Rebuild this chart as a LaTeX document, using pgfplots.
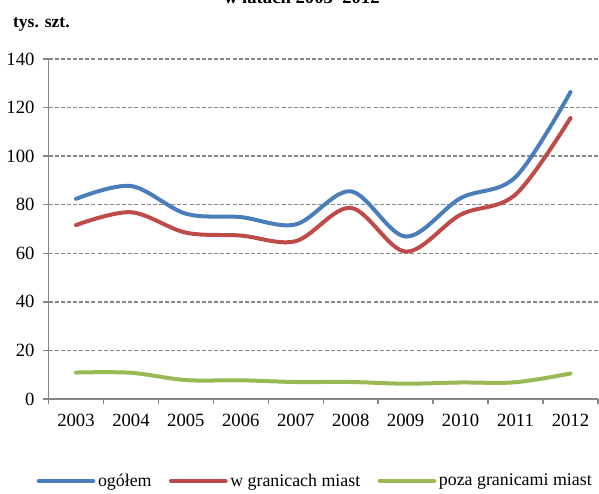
\documentclass[border=0pt]{standalone}
\usepackage{fontspec}
\setmainfont{Liberation Serif}
\usepackage{pgfplots}
\pgfplotsset{compat=1.18}
\definecolor{cblue}{HTML}{4A7EBB}
\definecolor{cred}{HTML}{BE4B48}
\definecolor{cgreen}{HTML}{98B954}
\definecolor{cgrid}{HTML}{868686}
\begin{document}
\begin{tikzpicture}
\begin{axis}[
  at={(0,0)}, anchor=south west,
  scale only axis,
  width=412.1pt, height=255pt,
  xmin=-0.5, xmax=9.5,
  ymin=0, ymax=140,
  axis lines=left,
  axis line style={-, draw=cgrid, line width=1.1pt},
  xtick={0,...,9},
  xticklabels={2003,2004,2005,2006,2007,2008,2009,2010,2011,2012},
  minor xtick={-0.5,0.5,...,9.5},
  major x tick style={draw=none},
  minor x tick style={draw=cgrid, line width=1.1pt},
  minor tick length=4pt,
  ytick={0,20,...,140},
  major y tick style={draw=cgrid, line width=1.1pt},
  major tick length=4pt,
  tick align=outside,
  ymajorgrids,
  grid style={draw=cgrid, dashed, dash pattern=on 3pt off 1.6pt, line width=1pt},
  tick label style={font=\fontsize{14}{16}\selectfont},
  /pgf/number format/assume math mode=true,
  yticklabel style={xshift=-3pt},
  xticklabel style={yshift=-4pt},
  legend columns=3,
  legend style={draw=none, fill=none, at={(0.486,-0.241)}, anchor=center,
    font=\fontsize{13.4}{15}\selectfont, inner sep=0pt,
    /tikz/every even column/.append style={column sep=11pt}},
  legend image code/.code={\draw[#1, line width=3pt] (0pt,0pt) -- (41pt,0pt);},
  every axis plot/.append style={line width=3pt, smooth, tension=0.55, line cap=round},
]
\addplot[cblue] coordinates {(0,82.4) (1,87.7) (2,76.3) (3,74.9) (4,71.9) (5,85.5) (6,66.9) (7,82.7) (8,91.4) (9,126.4)};
\addlegendentry{ogółem}
\addplot[cred] coordinates {(0,71.6) (1,76.9) (2,68.5) (3,67.3) (4,65.0) (5,78.7) (6,60.7) (7,75.9) (8,84.2) (9,115.7)};
\addlegendentry{w granicach miast}
\addplot[cgreen] coordinates {(0,10.9) (1,10.8) (2,7.8) (3,7.7) (4,7.0) (5,7.0) (6,6.3) (7,6.8) (8,6.9) (9,10.5)};
\addlegendentry{poza granicami miast}
\end{axis}
\node[anchor=base west, inner sep=0pt, font=\fontsize{13.2}{15}\selectfont\bfseries] at (-26.8pt,278.5pt) {tys. szt.};
\node[anchor=base, inner sep=0pt, font=\fontsize{14}{16}\selectfont\bfseries] at (190pt,296.25pt) {w latach 2003–2012};
\pgfresetboundingbox
\useasboundingbox (-36.375pt,-70.5pt) rectangle (412.875pt,299.25pt);
\end{tikzpicture}
\end{document}
